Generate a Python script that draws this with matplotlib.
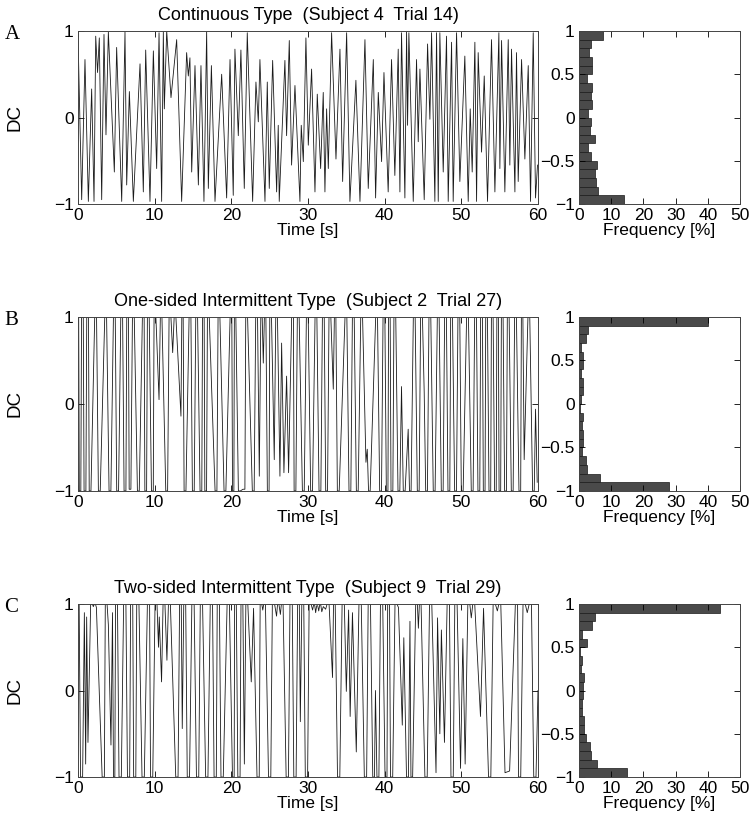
import matplotlib
matplotlib.use("Agg")
import matplotlib.pyplot as plt
import numpy as np

plt.rcParams['font.family'] = ['Liberation Sans', 'DejaVu Sans']
plt.rcParams['font.size'] = 12.5

# --- data: DC extrema (time [s], value) ---
t_A = [0.0, 0.48, 0.91, 1.35, 1.78, 2.09, 2.31, 2.55, 2.78, 3.09, 3.39, 3.65, 3.96, 4.74, 5.04,
       5.7, 6.13, 6.35, 6.7, 7.22, 8.09, 8.52, 8.83, 9.39, 9.83, 10.26, 10.57, 10.91, 11.13, 11.26,
       11.57, 12.13, 12.87, 13.52, 14.17, 14.39, 14.6, 14.83, 15.26, 15.7, 16.04, 16.43, 16.78, 17.0,
       17.4, 17.87, 18.74, 19.39, 19.83, 20.25, 20.47, 20.91, 21.25, 21.69, 22.08, 22.78, 23.21,
       23.52, 23.73, 24.39, 24.69, 24.95, 25.39, 25.91, 26.12, 26.25, 26.99, 27.21, 27.56, 27.86,
       28.3, 28.95, 29.12, 29.39, 29.73, 30.04, 30.47, 30.91, 31.21, 31.65, 31.99, 32.21, 32.43,
       32.65, 33.08, 33.65, 34.17, 34.52, 35.04, 35.47, 36.25, 36.78, 37.43, 37.86, 38.52, 38.82,
       39.17, 39.6, 39.91, 40.46, 40.9, 41.33, 41.77, 41.99, 42.2, 42.64, 42.86, 42.99, 43.16, 43.73,
       44.16, 44.38, 44.6, 45.16, 45.6, 45.9, 46.12, 46.55, 46.77, 46.99, 47.2, 47.64, 48.07, 48.29,
       48.73, 48.94, 49.38, 49.81, 50.46, 50.9, 51.16, 51.42, 51.77, 51.99, 52.2, 52.64, 52.99,
       53.42, 53.94, 54.38, 54.9, 55.03, 55.25, 55.68, 56.12, 56.33, 56.55, 56.99, 57.2, 57.42,
       57.86, 58.29, 58.73, 59.03, 59.38, 59.68, 59.94]
v_A = [0.95, -0.95, 0.67, -0.97, 0.33, -0.97, 0.94, 0.52, 0.92, -0.95, 0.96, -0.2, 0.99, -0.63, 0.81,
       -0.97, 0.99, -0.78, 0.3, -0.97, 0.62, -0.86, 0.78, -0.97, 0.77, -0.59, 0.98, -0.97, 0.99, 0.1,
       1.0, 0.23, 0.9, -0.97, 0.75, 0.48, 0.69, -0.63, 0.6, -0.78, 0.6, -0.97, 1.0, -0.82,
       0.6, -0.97, 0.5, -0.93, 0.67, -0.9, 0.79, -0.21, 0.78, -0.82, 0.98, -0.97, 0.41,
       -0.05, 0.67, -0.97, 0.41, -0.82, 0.66, -0.86, -0.09, -0.97, 0.66, -0.21, 0.89, -0.55,
       0.37, -0.97, -0.09, -0.51, 0.92, -0.32, 0.56, -0.86, 0.27, -0.59, 0.29, -0.86, 0.1,
       -0.59, 0.98, -0.48, 0.79, -0.74, 0.98, -0.97, 0.43, -0.97, 0.9, -0.82, 0.67, -0.93,
       0.29, -0.51, 0.52, -0.86, 0.67, -0.67, 0.79, -0.86, 0.98, -0.93, 0.99, -0.09, 0.98, -0.97,
       0.67, -0.28, 0.56, -0.95, 0.85, -0.02, 0.98, -0.97, 0.98, -0.97, 0.98, -0.63, 0.94, -0.97,
       0.87, -0.97, 0.98, -0.74, 0.71, -0.97, 0.1, -0.63, 0.87, -0.97, 0.75, -0.4, 0.48,
       -0.97, 0.9, -0.86, 0.98, -0.59, 0.89, -0.86, 0.9, -0.55, 0.79, -0.86, 0.75, -0.74,
       0.67, -0.48, 0.6, -0.97, 0.98, -0.93, -0.55]

t_B = [0.0, 0.26, 0.57, 0.91, 1.26, 1.57, 2.3, 2.78, 3.61, 4.17, 4.74, 5.17, 5.7, 6.13, 6.48, 6.78,
       7.22, 7.87, 8.52, 8.83, 9.17, 9.7, 10.04, 10.57, 10.83, 11.57, 12.0, 12.35, 12.65, 13.43,
       13.6, 13.96, 14.61, 15.04, 15.48, 16.04, 16.35, 16.65, 17.0, 18.0, 18.39, 19.17, 19.96,
       20.26, 20.47, 21.04, 21.65, 22.0, 22.86, 23.3, 23.65, 23.95, 24.17, 24.39, 24.82, 25.12,
       25.6, 25.9, 26.34, 26.56, 26.86, 27.21, 27.47, 27.99, 28.3, 28.73, 29.39, 29.91, 30.47,
       31.04, 31.56, 32.0, 32.43, 32.86, 33.3, 33.52, 33.95, 34.95, 35.47, 35.91, 36.43, 37.0,
       37.56, 37.73, 37.99, 38.95, 39.47, 39.91, 40.34, 40.6, 40.95, 41.33, 41.86, 42.2, 42.55,
       43.07, 43.33, 43.86, 44.38, 44.81, 45.16, 45.46, 45.9, 46.46, 46.99, 47.51, 47.94, 48.38,
       48.73, 49.25, 49.68, 50.12, 50.81, 51.42, 51.86, 52.29, 52.64, 52.99, 53.29, 53.73, 54.03,
       54.46, 54.73, 55.03, 55.33, 55.77, 56.12, 56.64, 57.07, 57.64, 57.94, 58.2, 58.81, 59.42,
       59.68, 59.9]
v_B = [1.0, -1.0, 1.0, -1.0, 1.0, -1.0, 1.0, -1.0, 1.0, -1.0, 1.0, -1.0, 1.0, -1.0, 1.0, -0.98,
       1.0, -1.0, 1.0, -1.0, 1.0, -1.0, 1.0, 0.05, 1.0, -1.0, 1.0, 0.59, 1.0, -0.14,
       1.0, -1.0, 1.0, -1.0, 1.0, -1.0, 1.0, -1.0, 1.0, -1.0, 1.0, -1.0, 1.0,
       -1.0, 1.0, -1.0, -0.98, 1.0, -1.0, 1.0, -0.83, 1.0, 0.47, 1.0, -1.0, 1.0,
       -0.64, 1.0, -0.83, 0.7, -0.79, 0.32, -0.79, 1.0, -1.0, 1.0, -1.0, 1.0, -1.0,
       1.0, -1.0, 1.0, -1.0, 1.0, 0.17, 1.0, -1.0, 1.0, -1.0, 1.0, -1.0, 1.0,
       -0.67, -0.52, -1.0, 1.0, -1.0, 1.0, -1.0, 1.0, -1.0, 1.0, -1.0, 0.2, -1.0,
       -0.29, -1.0, 1.0, -1.0, 1.0, 0.13, -1.0, 1.0, -1.0, 1.0, -1.0, 1.0, -1.0,
       1.0, -1.0, 1.0, -1.0, 1.0, -1.0, 1.0, -1.0, 1.0, -1.0, 1.0, -1.0, 1.0,
       -1.0, 1.0, -1.0, 1.0, -1.0, 1.0, -1.0, 1.0, -1.0, 1.0, -0.64, 1.0, -1.0,
       -0.06, -0.9]

t_C = [0.0, 0.48, 0.83, 1.0, 1.13, 1.3, 1.8, 2.0, 2.2, 2.4, 3.3, 3.7, 3.96, 4.3, 4.5, 4.7, 5.0, 5.5,
       6.1, 6.6, 7.0, 7.4, 7.8, 8.5, 9.2, 9.6, 10.2, 10.5, 10.6, 10.9, 11.2, 11.6, 11.9, 12.9,
       13.4, 13.6, 13.9, 14.4, 15.0, 15.6, 16.1, 16.8, 17.4, 17.9, 18.3, 18.8, 19.6, 20.3,
       20.5, 21.0, 21.4, 21.7, 22.0, 22.6, 22.9, 23.5, 23.9, 24.1, 24.3, 25.0, 25.5, 25.9, 26.1,
       26.4, 26.6, 27.3, 27.8, 28.3, 28.8, 29.0, 29.3, 29.8, 30.3, 30.6, 30.8, 31.0, 31.2, 31.4,
       31.6, 31.8, 32.0, 32.3, 32.6, 33.2, 33.4, 34.0, 34.6, 35.0, 35.3, 35.5, 35.8, 36.3, 36.8,
       37.5, 38.0, 38.6, 38.8, 39.1, 39.6, 40.2, 40.5, 40.9, 41.5, 41.8, 42.3, 42.5, 43.0, 43.3,
       43.5, 44.2, 44.4, 44.6, 45.4, 46.0, 46.7, 46.9, 47.2, 47.4, 47.8, 48.3, 48.8, 49.3, 49.9,
       50.2, 50.5, 51.0, 51.3, 51.6, 52.5, 52.9, 53.7, 54.3, 54.7, 55.0, 55.7, 56.3, 57.2, 57.6,
       58.2, 58.6, 59.0, 59.6, 60.0]
v_C = [1.0, -1.0, 0.9, -0.85, 0.85, -0.6, 1.0, 0.97, 1.0, 0.96, -1.0, 1.0, 0.76, -0.63, 0.9, -1.0, 1.0, -1.0,
       1.0, -1.0, 1.0, -1.0, 1.0, -1.0, 1.0, -1.0, 1.0, 0.5, 0.85, 0.1, 1.0, 0.35, 1.0, -1.0,
       1.0, -0.44, 1.0, -1.0, 1.0, -1.0, 1.0, -1.0, 1.0, -1.0, 1.0, -1.0, 1.0, -1.0,
       1.0, -1.0, 1.0, -0.85, 1.0, 0.1, 0.95, -1.0, 1.0, 0.93, 1.0, -1.0, 1.0, 0.86, 1.0,
       0.88, 1.0, -1.0, 1.0, -1.0, 1.0, -0.36, 1.0, -1.0, 1.0, 0.93, 0.99, 0.9, 0.98, 0.92,
       0.99, 0.91, 0.97, 0.94, 1.0, 0.15, 1.0, -1.0, 1.0, -0.01, 0.93, -0.3, 0.9, -0.71, 1.0,
       -1.0, 1.0, -1.0, 0.0, -1.0, 1.0, -1.0, 1.0, -1.0, 1.0, 0.96, -0.4, 0.61, -1.0, 0.8,
       -1.0, 1.0, 0.72, 1.0, -1.0, 1.0, -0.95, 0.84, -0.5, 0.7, -0.6, 1.0, -1.0, 1.0, -0.9,
       0.6, -0.85, 1.0, 0.84, 1.0, -0.3, 0.95, -1.0, 1.0, 0.92, 1.0, -0.95, -0.93, 1.0, -1.0,
       1.0, 0.9, 1.0, -1.0, 0.0]

# time the signal stays saturated at +-1 around each saturated extremum [s]
dwell_A = 0.0
dwell_B = 0.24
dwell_C = 0.3

# histogram frequencies [%], bins of width 0.1 from DC = 1 (top) down to -1
freq_A = [7.6, 3.7, 3.1, 4.1, 4.1, 2.4, 4.1, 3.7, 4.1, 2.7,
          3.8, 3.4, 5.1, 2.7, 3.7, 5.7, 4.9, 5.3, 6.0, 14.1]
freq_B = [40.0, 2.8, 2.1, 0.5, 1.3, 1.1, 0.5, 1.1, 1.3, 0.5,
          0.3, 1.1, 0.9, 1.3, 1.3, 1.0, 2.1, 2.4, 6.4, 27.8]
freq_C = [43.7, 5.0, 3.9, 0.8, 2.4, 0.2, 0.8, 0.5, 1.7, 1.3,
          1.1, 0.9, 0.8, 1.7, 1.4, 2.1, 3.4, 3.7, 5.5, 14.9]
bin_tops = [1.0, 0.9, 0.8, 0.7, 0.6, 0.5, 0.4, 0.3, 0.2, 0.1,
            0.0, -0.1, -0.2, -0.3, -0.4, -0.5, -0.6, -0.7, -0.8, -0.9]

titles = ["Continuous Type  (Subject 4  Trial 14)",
          "One-sided Intermittent Type  (Subject 2  Trial 27)",
          "Two-sided Intermittent Type  (Subject 9  Trial 29)"]
letters = ["A", "B", "C"]


def with_dwell(t, v, dwell):
    # saturated extrema are held flat for a short while instead of a sharp tip
    t = np.asarray(t, float)
    v = np.asarray(v, float)
    if dwell <= 0:
        return t, v
    tt, vv = [], []
    for i in range(len(t)):
        if abs(v[i]) >= 0.98:
            gl = t[i] - t[i - 1] if i > 0 else dwell
            gr = t[i + 1] - t[i] if i < len(t) - 1 else dwell
            hl = min(dwell / 2, 0.35 * gl)
            hr = min(dwell / 2, 0.35 * gr)
            tt += [t[i] - hl, t[i] + hr]
            vv += [v[i], v[i]]
        else:
            tt.append(t[i])
            vv.append(v[i])
    return np.array(tt), np.array(vv)


fig = plt.figure(figsize=(7.5, 8.22), dpi=100)

rows = [(0.7518, 0.2105), (0.4027, 0.2117), (0.0547, 0.2105)]
series = [(t_A, v_A, dwell_A, freq_A), (t_B, v_B, dwell_B, freq_B), (t_C, v_C, dwell_C, freq_C)]


def style(ax):
    ax.tick_params(direction='in', top=True, right=True, length=4, width=0.6, labelsize=12.5, pad=3)
    for s in ax.spines.values():
        s.set_linewidth(0.7)
        s.set_color('#444444')


for (bot, h), (t, v, dw, fr), title, letter in zip(rows, series, titles, letters):
    ax = fig.add_axes([0.104, bot, 0.6133, h])
    tt, vv = with_dwell(t, v, dw)
    ax.plot(tt, vv, color='#1a1a1a', lw=0.6)
    ax.set_xlim(0, 60)
    ax.set_ylim(-1, 1)
    ax.set_xticks(range(0, 61, 10))
    ax.set_yticks([-1, 0, 1])
    ax.set_yticklabels(["\u22121", "0", "1"])
    ax.set_xlabel("Time [s]", labelpad=0)
    ax.set_ylabel("DC", fontsize=13.5, family=['Liberation Sans', 'DejaVu Sans'])
    ax.yaxis.set_label_coords(-0.118, 0.5)
    ax.set_title(title, fontsize=13, pad=8)
    style(ax)
    fig.text(0.006, bot + h - 0.004, letter, family=['Liberation Serif', 'DejaVu Serif'],
             fontsize=15, va='center', ha='left')

    hx = fig.add_axes([0.772, bot, 0.2147, h])
    hx.barh(bin_tops, fr, height=-0.1, align='edge', color='#4a4a4a',
            edgecolor='#1a1a1a', linewidth=0.5)
    hx.set_xlim(0, 50)
    hx.set_ylim(-1, 1)
    hx.set_xticks(range(0, 51, 10))
    hx.set_yticks([-1, -0.5, 0, 0.5, 1])
    hx.set_yticklabels(["\u22121", "\u22120.5", "0", "0.5", "1"])
    hx.set_xlabel("Frequency [%]", labelpad=0)
    style(hx)

fig.savefig("out.png", dpi=100)
